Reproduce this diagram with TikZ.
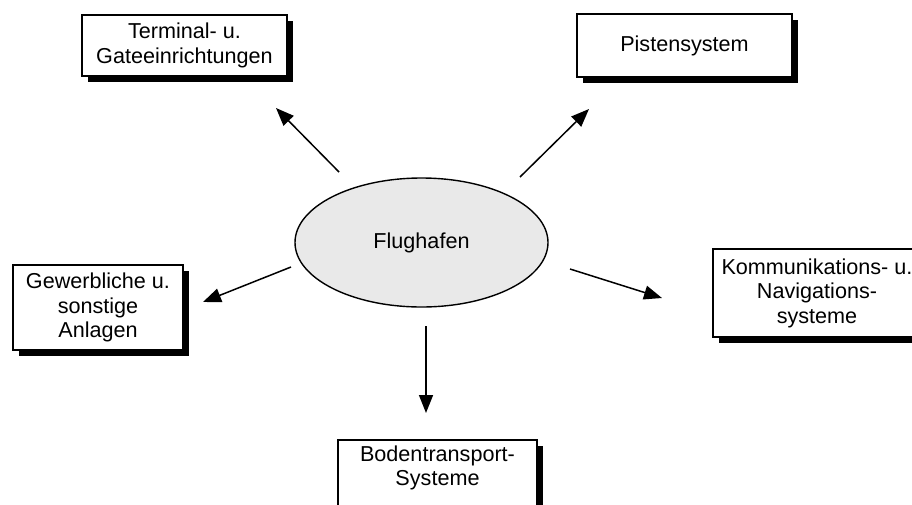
\documentclass[tikz,border=0pt]{standalone}
\usepackage{fontspec}
\setmainfont{Liberation Sans}
\usetikzlibrary{arrows.meta,shapes.geometric,shadows}
\begin{document}
\begin{tikzpicture}[x=1pt,y=-1pt,
  every node/.style={font=\fontsize{21.6}{24.5}\selectfont},
  card/.style={rectangle, draw=black, line width=1.4pt, fill=white,
    inner sep=0pt, align=center,
    drop shadow={shadow xshift=6pt, shadow yshift=-6pt, opacity=1, fill=black}},
  hub/.style={ellipse, draw=black, line width=1.4pt, fill=gray!17, inner sep=0pt},
  plain/.style={inner sep=0pt, align=center},
  arr/.style={line width=1.5pt, -{Triangle[length=18pt, width=14pt]}}
]
\useasboundingbox (0,0) rectangle (912,504);

% central node
\node[hub, minimum width=253pt, minimum height=129pt] (flug) at (421.5,242.5) {Flughafen};

% surrounding facility boxes
\node[card, minimum width=205pt, minimum height=61pt] (terminal) at (184.5,45.5)
  {Terminal- u.\\Gateeinrichtungen};
\node[card, minimum width=215pt, minimum height=63pt] (piste) at (684.5,45.5)
  {Pistensystem};
\node[card, minimum width=170pt, minimum height=85pt] (gewerbe) at (98,307.5)
  {Gewerbliche u.\\sonstige\\Anlagen};
\node[card, minimum width=208pt, minimum height=88pt] (kom) at (817,293)
  {Kommunikations- u.\\Navigations-\\systeme};
\node[card, minimum width=199pt, minimum height=100pt] (boden) at (437.5,490) {};
\node[plain] (bodentext) at (437.5,468) {Bodentransport-\\Systeme};

% arrow end points
\coordinate (s1) at (339,172);  \coordinate (e1) at (276,108);
\coordinate (s2) at (520,177);  \coordinate (e2) at (589,109);
\coordinate (s3) at (291,267);  \coordinate (e3) at (203,302);
\coordinate (s4) at (570,269);  \coordinate (e4) at (662,298);
\coordinate (s5) at (426,326);  \coordinate (e5) at (426,413);

\draw[arr] (s1) -- (e1);
\draw[arr] (s2) -- (e2);
\draw[arr] (s3) -- (e3);
\draw[arr] (s4) -- (e4);
\draw[arr] (s5) -- (e5);
\end{tikzpicture}
\end{document}
